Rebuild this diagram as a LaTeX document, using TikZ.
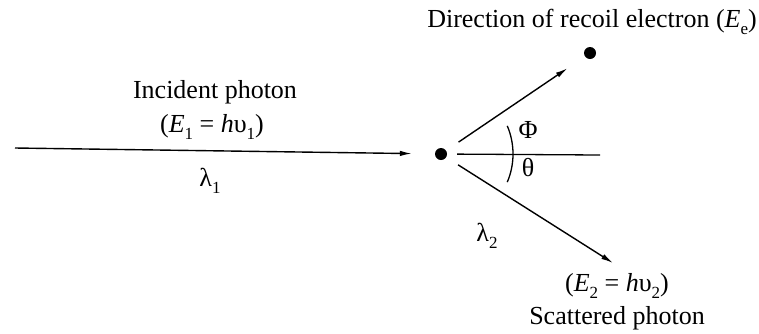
\documentclass[tikz,border=0pt]{standalone}
\usepackage{fontspec}
\setmainfont{Liberation Serif}
\usetikzlibrary{arrows.meta}
\newcommand{\lowsub}[1]{\raisebox{-0.28em}{\fontsize{17}{17}\selectfont #1}}
\begin{document}
\begin{tikzpicture}[x=1pt,y=-1pt,
  every node/.style={font=\fontsize{26}{30}\selectfont, inner sep=0pt},
  dot/.style={circle, fill=black, minimum size=12pt, inner sep=0pt},
  ray/.style={line width=1.4pt, -{Latex[length=12pt,width=5.5pt]}},
  plain/.style={line width=1.3pt}]
\useasboundingbox (0,0) rectangle (759,333);
\node[dot] (c) at (441,154) {};
\node[dot] (e) at (590,53) {};
\coordinate (in) at (15,148);
\coordinate (s) at (613,263);
\coordinate (h) at (600,155);
% rays
\draw[ray, shorten >=23pt] (in) -- (c);
\draw[ray, shorten <=15pt, shorten >=21pt] (c) -- (e);
\draw[ray, shorten <=14pt] (c) -- (s);
\draw[plain, shorten <=10pt] (c) -- (h);
% angle arc
\draw[plain] (c.center) ++(-23:72pt) arc[start angle=-23, end angle=23, radius=72pt];
% labels
\node (inc) at (215,92) {Incident photon};
\node (e1) at (212,127) {(\textit{E}\lowsub{1} = \textit{h}υ\lowsub{1})};
\node (l1) at (210,181) {λ\lowsub{1}};
\node (dir) at (592,22) {Direction of recoil electron (\textit{E}\lowsub{e})};
\node (phi) at (528,130) {Φ};
\node (th) at (528,168) {θ};
\node (l2) at (487,236) {λ\lowsub{2}};
\node (e2) at (617,286) {(\textit{E}\lowsub{2} = \textit{h}υ\lowsub{2})};
\node (sc) at (617,318) {Scattered photon};
\end{tikzpicture}
\end{document}
